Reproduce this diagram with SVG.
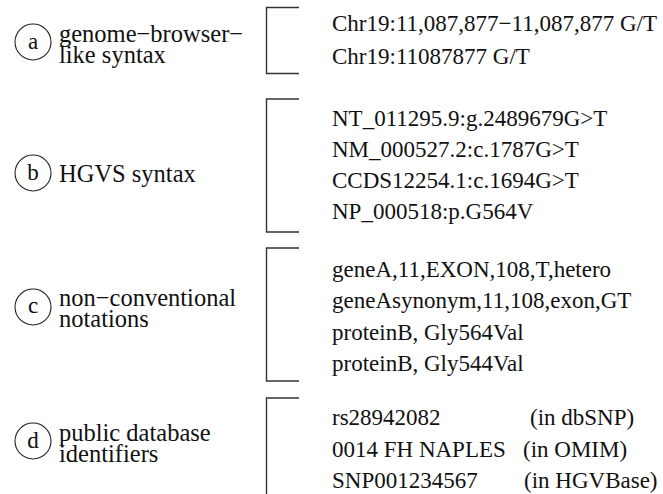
<svg xmlns="http://www.w3.org/2000/svg" width="663" height="494" viewBox="0 0 663 494">
<style>
text{font-family:"Liberation Serif","Times New Roman",serif;fill:#111}
.lbl{font-size:24.5px}
.item{font-size:23px}
.ltr{font-size:23px;text-anchor:middle}
circle{fill:none;stroke:#222;stroke-width:1.1}
.br{fill:none;stroke:#333;stroke-width:1.4}
</style>
<rect width="663" height="494" fill="#fff"/>
<g id="node-a">
<circle cx="33" cy="42" r="18"/>
<text class="ltr" x="33" y="49">a</text>
<text class="lbl" x="59" y="41.5">genome−browser−</text>
<text class="lbl" x="59" y="62.5">like syntax</text>
</g>
<g id="node-b">
<circle cx="33" cy="173" r="18"/>
<text class="ltr" x="33" y="180">b</text>
<text class="lbl" x="59" y="181.5">HGVS syntax</text>
</g>
<g id="node-c">
<circle cx="33" cy="307" r="18"/>
<text class="ltr" x="33" y="313">c</text>
<text class="lbl" x="59" y="305.5">non−conventional</text>
<text class="lbl" x="59" y="327">notations</text>
</g>
<g id="node-d">
<circle cx="33" cy="441" r="18"/>
<text class="ltr" x="33" y="448">d</text>
<text class="lbl" x="59" y="441">public database</text>
<text class="lbl" x="59" y="462">identifiers</text>
</g>
<g id="list-a">
<text class="item" x="332" y="31">Chr19:11,087,877−11,087,877 G/T</text>
<text class="item" x="332" y="64">Chr19:11087877 G/T</text>
</g>
<g id="list-b">
<text class="item" x="332" y="126">NT_011295.9:g.2489679G&gt;T</text>
<text class="item" x="332" y="157">NM_000527.2:c.1787G&gt;T</text>
<text class="item" x="332" y="188">CCDS12254.1:c.1694G&gt;T</text>
<text class="item" x="332" y="219">NP_000518:p.G564V</text>
</g>
<g id="list-c">
<text class="item" x="332" y="277">geneA,11,EXON,108,T,hetero</text>
<text class="item" x="332" y="308">geneAsynonym,11,108,exon,GT</text>
<text class="item" x="332" y="340">proteinB, Gly564Val</text>
<text class="item" x="332" y="371">proteinB, Gly544Val</text>
</g>
<g id="list-d">
<text class="item" x="332" y="425">rs28942082</text>
<text class="item" x="530" y="425">(in dbSNP)</text>
<text class="item" x="332" y="457">0014 FH NAPLES</text>
<text class="item" x="523" y="457">(in OMIM)</text>
<text class="item" x="332" y="488">SNP001234567</text>
<text class="item" x="524" y="488">(in HGVBase)</text>
</g>
<g id="connectors">
<path class="br" d="M299,7.5 H266.5 V73.5 H299"/>
<path class="br" d="M299,99 H266.5 V232 H299"/>
<path class="br" d="M299,248 H266.5 V381 H299"/>
<path class="br" d="M299,398 H266.5 V494"/>
</g>
</svg>
